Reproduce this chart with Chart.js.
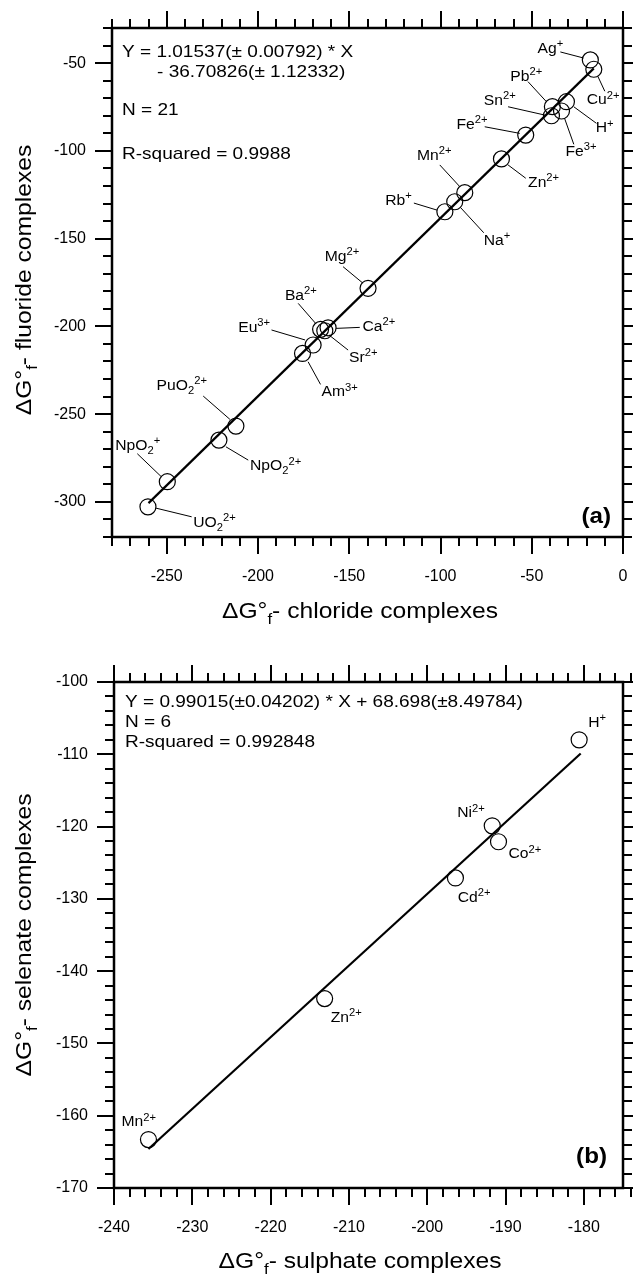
<!DOCTYPE html>
<html>
<head>
<meta charset="utf-8">
<script src="https://cdn.jsdelivr.net/npm/chart.js@4.4.1/dist/chart.umd.min.js"></script>
<style>
body{margin:0;background:#fff;}
canvas{position:absolute;left:0;}
</style>
</head>
<body>
<canvas id="chartA" width="633" height="640" style="top:0"></canvas>
<canvas id="chartB" width="633" height="635" style="top:640px"></canvas>
<script>
const FONT = "'Liberation Sans', Arial, sans-serif";
Chart.defaults.font.family = FONT;
Chart.defaults.color = "#000";

// (a) chloride vs fluoride complexes
const ionsA = ["Ag^+","Cu^2+","Pb^2+","Sn^2+","H^+","Fe^3+","Fe^2+","Zn^2+","Mn^2+","Na^+","Rb^+",
  "Mg^2+","Ba^2+","Ca^2+","Sr^2+","Eu^3+","Am^3+","PuO_2^2+","NpO_2^2+","NpO_2^+","UO_2^2+"];
const chlorideG = [-17.9,-16.0,-38.7,-39.2,-31.0,-33.7,-53.3,-66.6,-86.7,-92.2,-97.6,
  -139.7,-165.7,-161.6,-163.4,-169.8,-175.6,-212.1,-221.4,-249.7,-260.3];
const fluorideG = [-48.2,-53.5,-74.8,-80.0,-72.0,-77.3,-91.0,-104.6,-123.8,-129.0,-134.7,
  -178.3,-201.7,-200.8,-202.5,-210.6,-215.4,-256.8,-264.8,-288.5,-302.8];
const fitXA = [-260, -16];
const fitYA = [-300.7, -53.0];
const xTicksA = [-250,-200,-150,-100,-50,0];
const yTicksA = [-300,-250,-200,-150,-100,-50];
const statsA = ["Y = 1.01537(\u00b1 0.00792) * X", "- 36.70826(\u00b1 1.12332)", "N = 21", "R-squared = 0.9988"];

// (b) sulphate vs selenate complexes
const ionsB = ["H^+","Ni^2+","Co^2+","Cd^2+","Zn^2+","Mn^2+"];
const sulphateG = [-180.6,-191.7,-190.9,-196.4,-213.1,-235.6];
const selenateG = [-108.0,-119.9,-122.1,-127.1,-143.8,-163.3];
const fitXB = [-235.6, -180.4];
const fitYB = [-164.6, -109.9];
const xTicksB = [-240,-230,-220,-210,-200,-190,-180];
const yTicksB = [-170,-160,-150,-140,-130,-120,-110,-100];
const statsB = ["Y = 0.99015(\u00b10.04202) * X + 68.698(\u00b18.49784)", "N = 6", "R-squared = 0.992848"];

// label placement in px from the marker: [textX, baseline, align, leader x1, y1, x2, y2]
const placeA = [
  [-27,-7,"right", -7,-2,-30,-8],
  [-7,35,"left", 4,7,11,22],
  [-42,-25.7,"left", -6,-5,-24.4,-25],
  [-67.7,-10.7,"left", -6.7,-0.7,-43.4,-9],
  [29.3,30.6,"left", 7.3,5,30,21.6],
  [4,44.7,"left", 3.3,8,12.3,33.3],
  [-69.3,-6,"left", -6,-1.7,-41,-8.3],
  [26.6,27.7,"left", 6.6,6,24.3,19.3],
  [-13.3,-32.7,"right", -5,-6,-25,-27.7],
  [29,43,"left", 6,6,29,31],
  [-33,-6.7,"right", -8,-1.7,-31,-8.7],
  [-43.3,-27.6,"left", -5,-5,-25,-21.6],
  [-35.7,-29.3,"left", -5,-6,-22.4,-26],
  [34.4,3,"left", 8,0.6,31.7,-0.4],
  [24.3,31,"left", 4.3,4.3,23.3,19.3],
  [-43,-13.3,"right", -8,-5,-41.6,-15],
  [19,43,"left", 5.6,8.4,18,31],
  [-79.3,-36,"left", -6,-6.7,-32.7,-30],
  [31,30,"left", 7,6.7,29.3,20],
  [-7,-32,"right", -6,-5,-30,-28],
  [45.3,20,"left", 8,1.3,43.7,10]
];
const placeB = [
  [9,-13,"left"],
  [-35,-8.7,"left"],
  [10,16.6,"left"],
  [2.3,24,"left"],
  [6,23.4,"left"],
  [-27,-13.3,"left"]
];

// split "NpO_2^2+" into plain / subscript / superscript runs
function richParts(str){
  let parts = [], buf = "", i = 0;
  while(i < str.length){
    let c = str[i];
    if(c === "_"){
      if(buf) parts.push({t:buf,k:0});
      buf = "";
      parts.push({t:str[i+1],k:1});
      i += 2;
    }
    else if(c === "^"){
      if(buf) parts.push({t:buf,k:0});
      buf = "";
      parts.push({t:str.slice(i+1),k:2});
      i = str.length;
    }
    else{ buf += c; i++; }
  }
  if(buf) parts.push({t:buf,k:0});
  return parts;
}

function drawRich(ctx, str, x, y, size, align, sx, weight){
  let parts = richParts(str);
  let small = Math.round(size*0.7);
  let widths = [], total = 0;
  parts.forEach(function(p){
    ctx.font = (weight||"") + " " + (p.k ? small : size) + "px " + FONT;
    let w = ctx.measureText(p.t).width;
    widths.push(w);
    total += w;
  });
  total *= sx;
  let cx = align === "right" ? x - total : align === "center" ? x - total/2 : x;
  ctx.textAlign = "left";
  ctx.textBaseline = "alphabetic";
  parts.forEach(function(p,i){
    ctx.font = (weight||"") + " " + (p.k ? small : size) + "px " + FONT;
    let dy = p.k === 1 ? size*0.28 : p.k === 2 ? -size*0.4 : 0;
    ctx.save();
    ctx.translate(cx, y+dy);
    ctx.scale(sx,1);
    ctx.fillText(p.t,0,0);
    ctx.restore();
    cx += widths[i]*sx;
  });
}

// frame with outward major and minor ticks on all four sides
function drawFrame(chart, minorX, minorY, majorX, majorY){
  const ctx = chart.ctx, a = chart.chartArea;
  const sx = chart.scales.x, sy = chart.scales.y;
  ctx.save();
  ctx.strokeStyle = "#000";
  ctx.lineWidth = 2;
  ctx.beginPath();
  let n = Math.round((sx.max - sx.min)/minorX);
  for(let i=0;i<=n;i++){
    let v = sx.min + i*minorX;
    let px = Math.round(sx.getPixelForValue(v));
    let len = Math.abs(v/majorX - Math.round(v/majorX)) < 1e-6 ? 17 : 9;
    ctx.moveTo(px, a.bottom); ctx.lineTo(px, a.bottom+len);
    ctx.moveTo(px, a.top); ctx.lineTo(px, a.top-len);
  }
  n = Math.round((sy.max - sy.min)/minorY);
  for(let i=0;i<=n;i++){
    let v = sy.min + i*minorY;
    let py = Math.round(sy.getPixelForValue(v));
    let len = Math.abs(v/majorY - Math.round(v/majorY)) < 1e-6 ? 17 : 9;
    ctx.moveTo(a.left, py); ctx.lineTo(a.left-len, py);
    ctx.moveTo(a.right, py); ctx.lineTo(a.right+len, py);
  }
  ctx.stroke();
  ctx.lineWidth = 2.5;
  ctx.strokeRect(a.left, a.top, a.right-a.left, a.bottom-a.top);
  ctx.restore();
}

function drawLabels(chart, ions, xs, ys, place, size){
  const ctx = chart.ctx;
  const sx = chart.scales.x, sy = chart.scales.y;
  ctx.save();
  ctx.fillStyle = "#000";
  ctx.strokeStyle = "#000";
  ctx.lineWidth = 1;
  ions.forEach(function(name,i){
    let px = sx.getPixelForValue(xs[i]);
    let py = sy.getPixelForValue(ys[i]);
    let p = place[i];
    if(p.length > 3){
      ctx.beginPath();
      ctx.moveTo(px+p[3], py+p[4]);
      ctx.lineTo(px+p[5], py+p[6]);
      ctx.stroke();
    }
    drawRich(ctx, name, px+p[0], py+p[1], size, p[2], 1.12);
  });
  ctx.restore();
}

function drawTitles(chart, xTitle, yTitle, xBase, yBase, xCenter, yCenter){
  const ctx = chart.ctx;
  ctx.save();
  ctx.fillStyle = "#000";
  drawRich(ctx, xTitle, xCenter, xBase, 22, "center", 1.12);
  ctx.translate(yBase, yCenter);
  ctx.rotate(-Math.PI/2);
  drawRich(ctx, yTitle, 0, 0, 22, "center", 1.12);
  ctx.restore();
}

function drawStats(chart, lines, xs, bases){
  const ctx = chart.ctx;
  ctx.save();
  ctx.fillStyle = "#000";
  lines.forEach(function(t,i){
    ctx.font = "17px " + FONT;
    ctx.textAlign = "left";
    ctx.save();
    ctx.translate(xs[i], bases[i]);
    ctx.scale(1.12,1);
    ctx.fillText(t,0,0);
    ctx.restore();
  });
  ctx.restore();
}

function scatterSet(xs, ys){
  return {
    data: xs.map(function(x,i){ return {x:x, y:ys[i]}; }),
    showLine:false,
    pointStyle:"circle",
    pointRadius:8,
    pointBorderWidth:1.2,
    pointBorderColor:"#000",
    pointBackgroundColor:"rgba(0,0,0,0)"
  };
}

function lineSet(xs, ys){
  return {
    data: xs.map(function(x,i){ return {x:x, y:ys[i]}; }),
    showLine:true,
    borderColor:"#000",
    borderWidth:2.2,
    pointRadius:0,
    fill:false
  };
}

function axes(xmin, xmax, ymin, ymax, xt, yt, xh, yw){
  return {
    x:{
      type:"linear", min:xmin, max:xmax,
      afterBuildTicks:function(s){ s.ticks = xt.map(function(v){ return {value:v}; }); },
      afterFit:function(s){ s.height = xh; s.paddingLeft = 0; s.paddingRight = 0; },
      grid:{display:false, drawTicks:false},
      border:{display:false},
      ticks:{padding:30, font:{size:16}, color:"#000"}
    },
    y:{
      type:"linear", min:ymin, max:ymax,
      afterBuildTicks:function(s){ s.ticks = yt.map(function(v){ return {value:v}; }); },
      afterFit:function(s){ s.width = yw; s.paddingTop = 0; s.paddingBottom = 0; },
      grid:{display:false, drawTicks:false},
      border:{display:false},
      ticks:{padding:26, font:{size:16}, color:"#000"}
    }
  };
}

// CHART (a)

new Chart(document.getElementById("chartA"), {
  type:"scatter",
  data:{ datasets:[ scatterSet(chlorideG, fluorideG), lineSet(fitXA, fitYA) ] },
  options:{
    responsive:false,
    animation:false,
    events:[],
    layout:{autoPadding:false, padding:{left:0, top:28, right:10, bottom:0}},
    plugins:{legend:{display:false}, tooltip:{enabled:false}},
    scales:axes(-280, 0, -320, -30, xTicksA, yTicksA, 103, 112)
  },
  plugins:[{
    id:"decorA",
    afterDraw:function(chart){
      drawFrame(chart, 10, 10, 50, 50);
      drawLabels(chart, ionsA, chlorideG, fluorideG, placeA, 14);
      drawStats(chart, statsA, [122,157,122,122], [57,77,115,159]);
      drawTitles(chart, "\u0394G\u00b0_f- chloride complexes", "\u0394G\u00b0_f- fluoride complexes", 618, 31, 360, 280);
      drawRich(chart.ctx, "(a)", 611, 523, 22, "right", 1.1, "bold");
    }
  }]
});

// CHART (b)

new Chart(document.getElementById("chartB"), {
  type:"scatter",
  data:{ datasets:[ scatterSet(sulphateG, selenateG), lineSet(fitXB, fitYB) ] },
  options:{
    responsive:false,
    animation:false,
    events:[],
    layout:{autoPadding:false, padding:{left:0, top:42, right:10, bottom:0}},
    plugins:{legend:{display:false}, tooltip:{enabled:false}},
    scales:axes(-240, -175, -170, -100, xTicksB, yTicksB, 87, 114)
  },
  plugins:[{
    id:"decorB",
    afterDraw:function(chart){
      drawFrame(chart, 2, 2, 10, 10);
      drawLabels(chart, ionsB, sulphateG, selenateG, placeB, 14);
      drawStats(chart, statsB, [125,125,125], [67,87,107]);
      drawTitles(chart, "\u0394G\u00b0_f- sulphate complexes", "\u0394G\u00b0_f- selenate complexes", 628, 31, 360, 295);
      drawRich(chart.ctx, "(b)", 607, 523, 22, "right", 1.1, "bold");
    }
  }]
});
</script>
</body>
</html>
